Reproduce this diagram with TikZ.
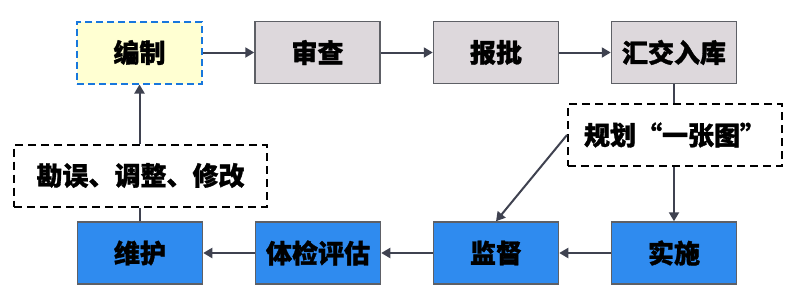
\documentclass[tikz,border=0pt]{standalone}
\usepackage{fontspec}
\setmainfont{Noto Sans CJK SC}[BoldFeatures={FakeBold=1.2}]
\usetikzlibrary{arrows.meta}

\definecolor{linegray}{HTML}{3F4250}
\definecolor{edgegray}{HTML}{5E6066}
\definecolor{topfill}{HTML}{DDD8DC}
\definecolor{bluefill}{HTML}{2F8BEF}
\definecolor{yellowfill}{HTML}{FFFFD2}
\definecolor{dashblue}{HTML}{1877DD}

\tikzset{
  box/.style={draw=edgegray, line width=1.5pt, minimum width=125pt, minimum height=62pt,
    inner sep=0pt, font=\bfseries\fontsize{26}{26}\selectfont},
  topbox/.style={box, fill=topfill},
  bluebox/.style={box, fill=bluefill},
  notebox/.style={box, draw=black, fill=white, dash pattern=on 8pt off 5pt, line width=2pt},
  link/.style={draw=linegray, line width=2pt, -{Triangle[length=9pt,width=10pt]}},
  plain/.style={draw=linegray, line width=2pt},
}

\begin{document}
\begin{tikzpicture}[x=1pt, y=-1pt]
    \useasboundingbox[fill=white] (0,0) rectangle (800,306);

    % Prima riga
    \node[box, fill=yellowfill, draw=dashblue, dash pattern=on 7pt off 4pt, line width=2pt]
        (bianzhi) at (139.5,52.5) {编制};
    \foreach \n/\x/\t in {shencha/317.5/审查, baopi/496/报批, huijiao/674/汇交入库}
        \node[topbox] (\n) at (\x,52.5) {\t};

    % Seconda riga
    \foreach \n/\x/\t in {weihu/140/维护, tijian/318/体检评估, jiandu/496/监督, shishi/674/实施}
        \node[bluebox] (\n) at (\x,253) {\t};

    % Riquadri tratteggiati
    \node[notebox, minimum width=214pt] (guihua) at (675,135) {规划“一张图”};
    \node[notebox, minimum width=253pt] (kanwu) at (140.5,175.5) {勘误、调整、修改};

    % Frecce riga superiore
    \draw[link] (bianzhi) -- (shencha);
    \draw[link] (shencha) -- (baopi);
    \draw[link] (baopi) -- (huijiao);

    % Discesa a destra
    \draw[plain] (huijiao.south) -- (huijiao.south |- guihua.north);
    \draw[link] (guihua.south -| shishi.north) -- (shishi.north);
    \draw[link] (guihua.west) -- (jiandu.north);

    % Frecce riga inferiore
    \draw[link] (shishi) -- (jiandu);
    \draw[link] (jiandu) -- (tijian);
    \draw[link] (tijian) -- (weihu);

    % Risalita a sinistra
    \draw[plain] (weihu.north) -- (weihu.north |- kanwu.south);
    \draw[link] (kanwu.north -| bianzhi.south) -- (bianzhi.south);
\end{tikzpicture}
\end{document}
